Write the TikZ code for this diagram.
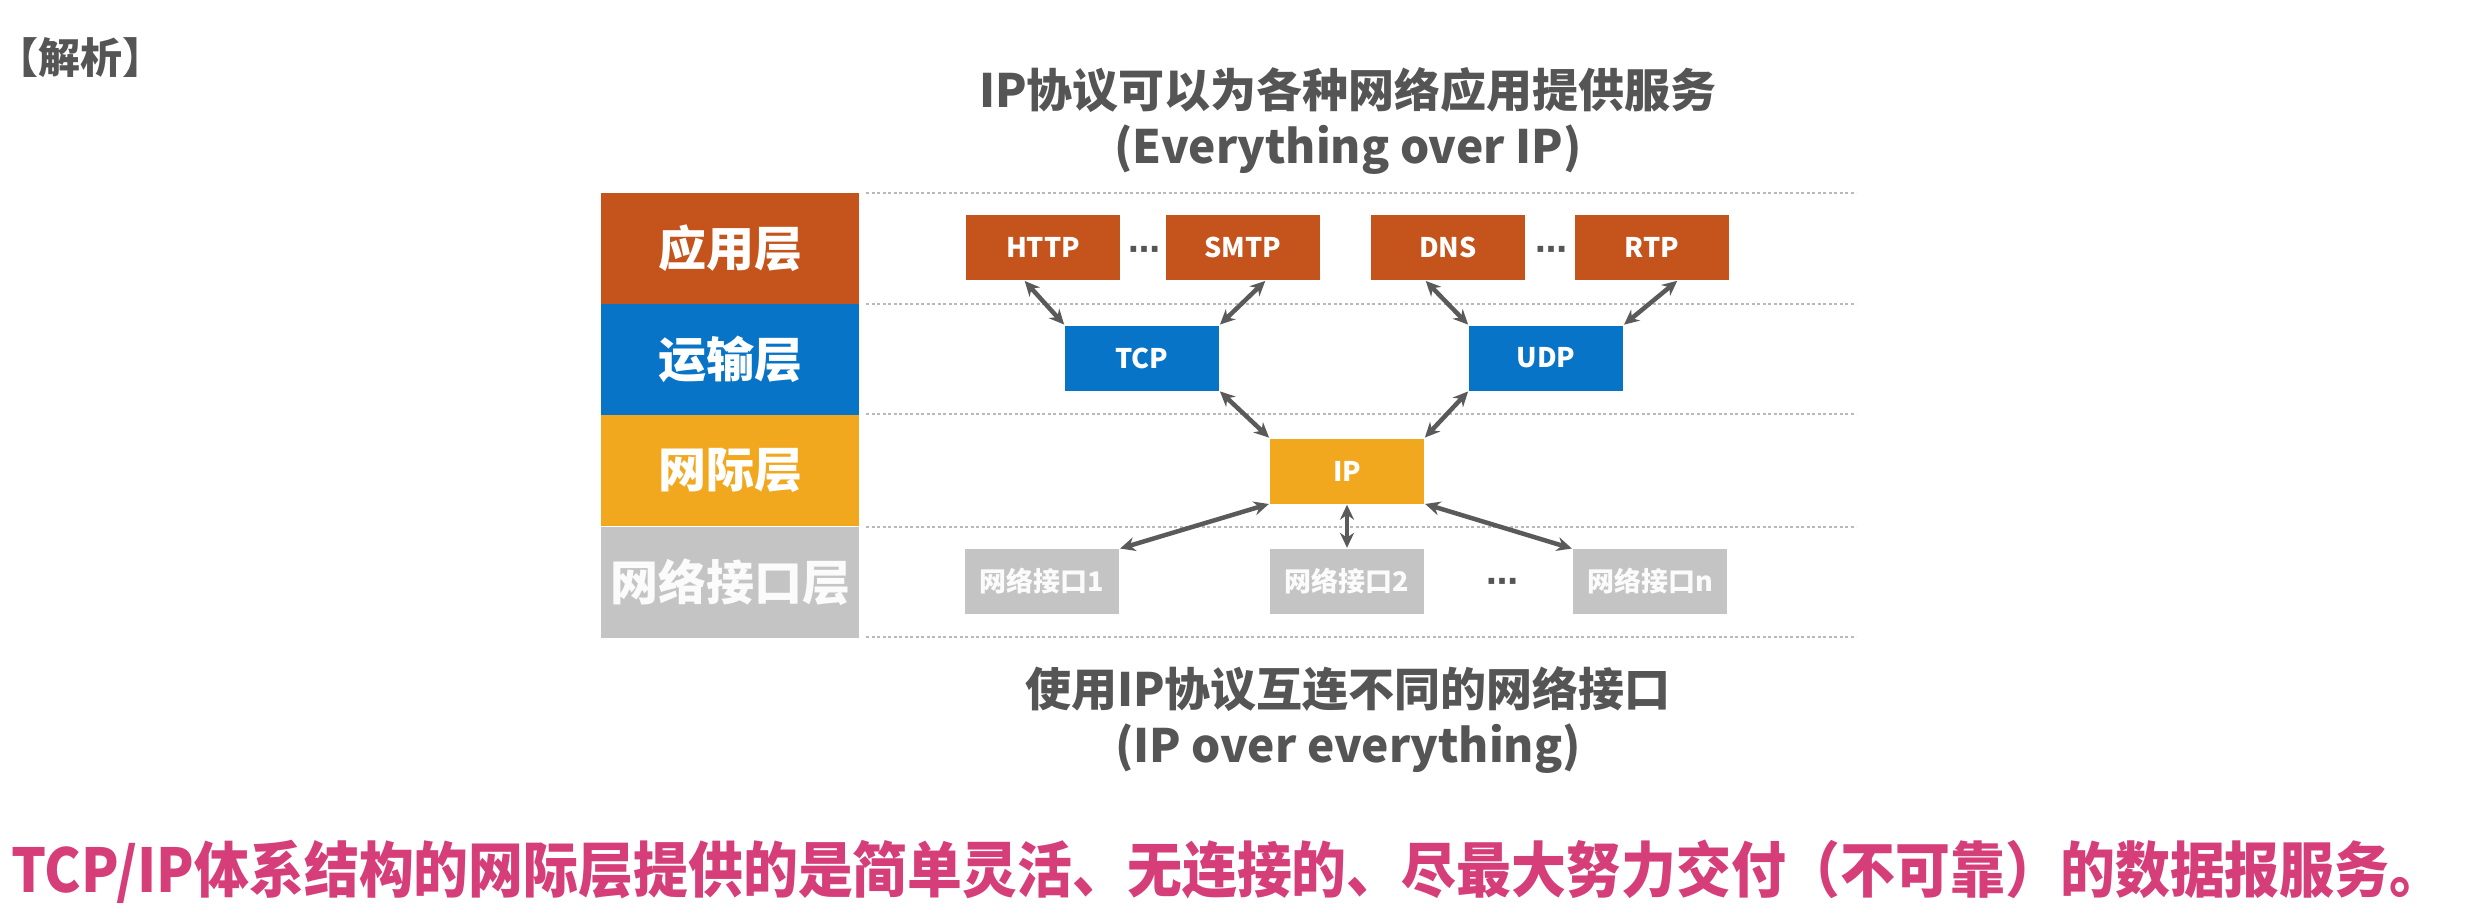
\documentclass[tikz,border=0pt]{standalone}
\usepackage{fontspec}
\setmainfont{Noto Sans CJK SC}
\newfontfamily\djv{DejaVu Sans}
\usetikzlibrary{arrows.meta}
\definecolor{appc}{RGB}{196,84,28}
\definecolor{trc}{RGB}{8,116,200}
\definecolor{netc}{RGB}{241,168,30}
\definecolor{ifc}{RGB}{196,196,196}
\definecolor{arrc}{RGB}{90,90,90}
\definecolor{txtc}{RGB}{85,85,85}
\definecolor{pinkc}{RGB}{214,62,122}
\tikzset{
  layerbox/.style={minimum width=258pt, minimum height=111pt, inner sep=0pt, text=white,
     font=\fontsize{48}{48}\selectfont\bfseries},
  proto/.style={minimum width=154pt, minimum height=65pt, inner sep=0pt, text=white,
     font=\fontsize{27}{27}\selectfont\bfseries},
  ifbox/.style={proto, fill=ifc, font=\fontsize{27}{27}\selectfont\bfseries, text=white!97!gray},
  link/.style={{Stealth[length=15pt,width=14pt]}-{Stealth[length=15pt,width=14pt]}, line width=4.5pt, draw=arrc, shorten <=1pt, shorten >=1pt},
  sep/.style={draw=gray!55, line width=2pt, dash pattern=on 3pt off 2.5pt},
  dots/.style={text=txtc, font=\fontsize{32}{32}\selectfont\djv\bfseries, inner sep=0pt},
  title/.style={text=txtc, font=\fontsize{46}{46}\selectfont\bfseries, inner sep=0pt}
}
\begin{document}
\begin{tikzpicture}[x=1pt,y=-1pt]
\useasboundingbox (0,0) rectangle (2466,914);
\fill[white] (0,0) rectangle (2466,914);
% header
\node[text=txtc, font=\fontsize{42}{42}\selectfont\bfseries, anchor=west, inner sep=0pt] (hdr) at (-4,58) {【解析】};
% titles
\node[title] (t1) at (1348,90) {IP协议可以为各种网络应用提供服务};
\node[title] (t2) at (1348,150) {(Everything over IP)};
\node[title] (b1) at (1348,689) {使用IP协议互连不同的网络接口};
\node[title] (b2) at (1348,749) {(IP over everything)};
% separators
\foreach \yy in {193,304,414,527,637} \draw[sep] (866,\yy) -- (1856,\yy);
% layers
\node[layerbox, fill=appc] (L1) at (730,248.5) {应用层};
\node[layerbox, fill=trc] (L2) at (730,359) {运输层};
\node[layerbox, fill=netc] (L3) at (730,470.5) {网际层};
\node[layerbox, fill=ifc, text=white!97!gray] (L4) at (730,582) {网络接口层};
% application protocols
\node[proto, fill=appc] (http) at (1043,247.5) {HTTP};
\node[proto, fill=appc] (smtp) at (1243,247.5) {SMTP};
\node[proto, fill=appc] (dns) at (1448,247.5) {DNS};
\node[proto, fill=appc] (rtp) at (1652,247.5) {RTP};
\node[dots] (d1) at (1144,253) {⋯};
\node[dots] (d2) at (1551,253) {⋯};
% transport
\node[proto, fill=trc] (tcp) at (1142,358) {TCP};
\node[proto, fill=trc] (udp) at (1546,358) {UDP};
% network
\node[proto, fill=netc] (ip) at (1347,471) {IP};
% interfaces
\node[ifbox] (if1) at (1042,581.5) {网络接口1};
\node[ifbox] (if2) at (1347,581.5) {网络接口2};
\node[ifbox] (ifn) at (1650,581.5) {网络接口n};
\node[dots] (d3) at (1502,585) {⋯};
% links
\draw[link] ([xshift=-19pt]http.south) -- (tcp.north west);
\draw[link] ([xshift=23pt]smtp.south) -- (tcp.north east);
\draw[link] ([xshift=-23pt]dns.south) -- (udp.north west);
\draw[link] ([xshift=26pt]rtp.south) -- (udp.north east);
\draw[link] (tcp.south east) -- (ip.north west);
\draw[link] (udp.south west) -- (ip.north east);
\draw[link] (ip.south west) -- (if1.north east);
\draw[link] (ip.south) -- (if2.north);
\draw[link] (ip.south east) -- (ifn.north west);
% conclusion
\node[text=pinkc, font=\fontsize{56}{56}\selectfont\bfseries, inner sep=0pt, xscale=0.98, yscale=1.08] (concl) at (1228,872) {TCP/IP体系结构的网际层提供的是简单灵活、无连接的、尽最大努力交付（不可靠）的数据报服务。};
\end{tikzpicture}
\end{document}
